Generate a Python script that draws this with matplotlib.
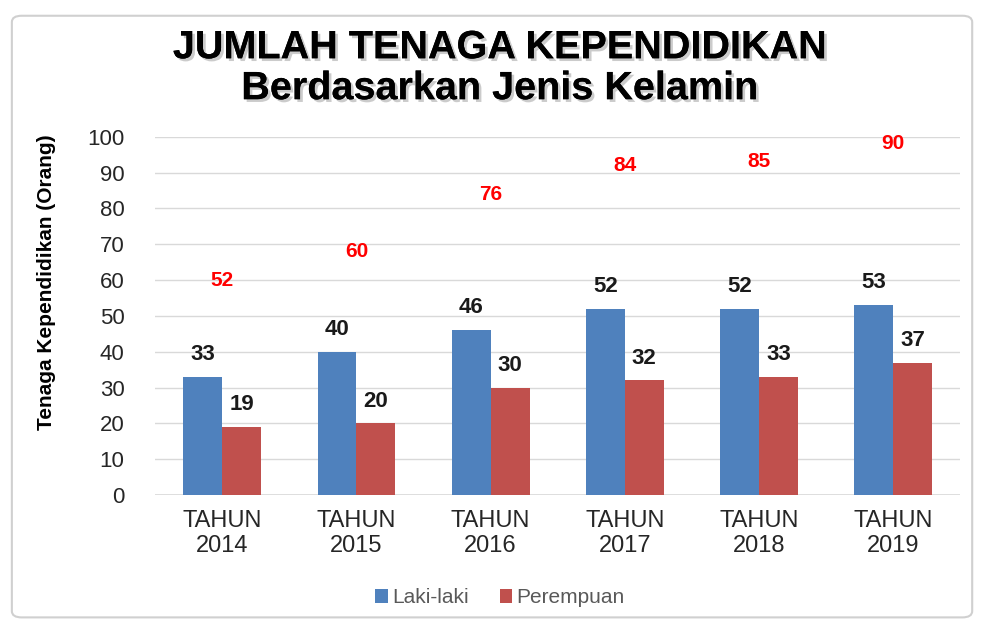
import matplotlib.pyplot as plt
import matplotlib.patheffects as pe
from matplotlib.patches import FancyBboxPatch
import numpy as np

plt.rcParams['font.family'] = ['Liberation Sans', 'DejaVu Sans']

years = ['TAHUN\n2014', 'TAHUN\n2015', 'TAHUN\n2016', 'TAHUN\n2017', 'TAHUN\n2018', 'TAHUN\n2019']
laki = [33, 40, 46, 52, 52, 53]
perempuan = [19, 20, 30, 32, 33, 37]
total = [l + p for l, p in zip(laki, perempuan)]

blue = '#4f81bd'
red = '#c0504d'

fig = plt.figure(figsize=(9.88, 6.3), dpi=100)
ax = fig.add_axes([0.157, 0.214, 0.815, 0.569])

# frame around the whole chart
fig.patches.append(FancyBboxPatch((0.012, 0.02), 0.972, 0.955, boxstyle='round,pad=0,rounding_size=0.01',
                                  transform=fig.transFigure, fc='white', ec='#d0d0d0', lw=1.5, zorder=-1))

x = np.arange(len(years))
w = 0.29
ax.bar(x - w / 2, laki, w, color=blue, label='Laki-laki', zorder=3)
ax.bar(x + w / 2, perempuan, w, color=red, label='Perempuan', zorder=3)

for i in range(len(years)):
    ax.text(x[i] - w / 2, laki[i] + 3.3, str(laki[i]), ha='center', va='bottom',
            fontsize=16, fontweight='bold', color='#1a1a1a')
    ax.text(x[i] + w / 2, perempuan[i] + 3.3, str(perempuan[i]), ha='center', va='bottom',
            fontsize=16, fontweight='bold', color='#1a1a1a')
    ax.text(x[i], total[i] + 8, str(total[i]), ha='center', va='center',
            fontsize=15, fontweight='bold', color='#ff0000')

ax.set_xlim(-0.5, 5.5)
ax.set_ylim(0, 100)
ax.set_yticks(range(0, 101, 10))
ax.set_xticks(x)
ax.set_xticklabels(years, fontsize=17, color='#262626', linespacing=1.15)
ax.tick_params(axis='y', labelsize=16, labelcolor='#262626', length=0, pad=22)
ax.tick_params(axis='x', length=0, pad=11)
ax.grid(axis='y', color='#d9d9d9', lw=1, zorder=0)
for s in ax.spines.values():
    s.set_visible(False)
ax.axhline(0, color='#d9d9d9', lw=1.2, zorder=2)

ax.set_ylabel('Tenaga Kependidikan (Orang)', fontsize=15, fontweight='bold')
ax.yaxis.set_label_coords(-0.123, 0.595)

shadow = [pe.withSimplePatchShadow(offset=(2, -2), shadow_rgbFace='#999999', alpha=0.5), pe.Normal()]
fig.text(0.506, 0.925, 'JUMLAH TENAGA KEPENDIDIKAN', ha='center', va='center',
         fontsize=28.5, fontweight='bold', path_effects=shadow)
fig.text(0.506, 0.86, 'Berdasarkan Jenis Kelamin', ha='center', va='center',
         fontsize=28.5, fontweight='bold', path_effects=shadow)

leg = fig.legend(loc='center', bbox_to_anchor=(0.506, 0.051), ncol=2, frameon=False,
                 fontsize=15, handlelength=0.6, handleheight=0.6, handletextpad=0.2, columnspacing=1.5)
for t in leg.get_texts():
    t.set_color('#595959')

fig.savefig('out.png', dpi=100)
